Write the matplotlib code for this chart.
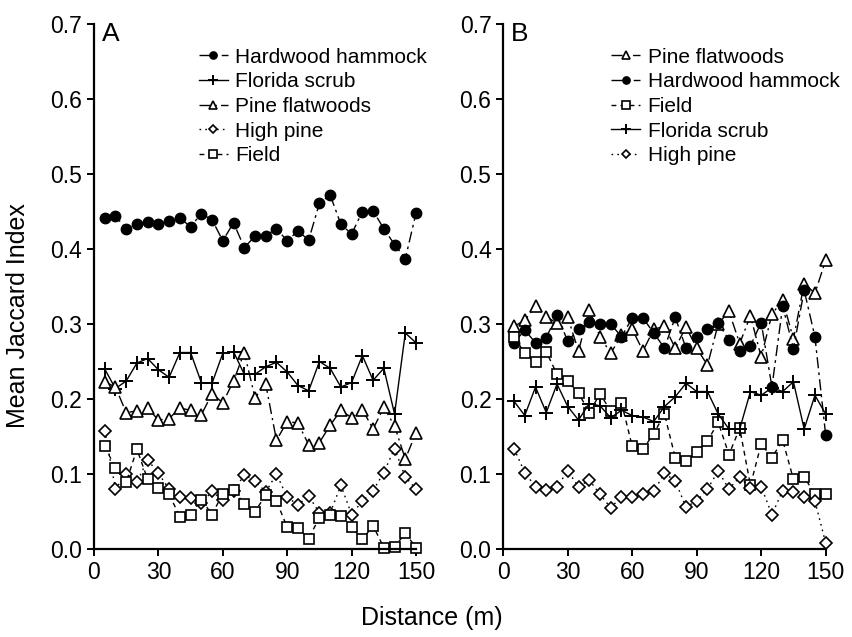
import matplotlib
matplotlib.use("Agg")
import matplotlib.pyplot as plt
from matplotlib.ticker import FormatStrFormatter

plt.rcParams['font.family'] = ['Liberation Sans', 'DejaVu Sans']

# distance along transect (m)
distance = list(range(5, 155, 5))

# Panel A
a_hardwood = [0.442, 0.444, 0.427, 0.433, 0.436, 0.433, 0.438, 0.441, 0.430, 0.447,
              0.439, 0.411, 0.435, 0.402, 0.417, 0.418, 0.427, 0.411, 0.424, 0.412,
              0.461, 0.472, 0.433, 0.420, 0.450, 0.451, 0.427, 0.406, 0.387, 0.448]
a_scrub = [0.240, 0.214, 0.224, 0.248, 0.254, 0.239, 0.229, 0.262, 0.262, 0.222,
           0.221, 0.261, 0.263, 0.233, 0.233, 0.243, 0.249, 0.236, 0.218, 0.211,
           0.250, 0.241, 0.216, 0.222, 0.258, 0.225, 0.241, 0.180, 0.288, 0.275]
a_flatwoods = [0.223, 0.216, 0.182, 0.184, 0.188, 0.172, 0.174, 0.188, 0.185, 0.179,
               0.207, 0.195, 0.224, 0.262, 0.202, 0.220, 0.145, 0.170, 0.168, 0.139,
               0.142, 0.165, 0.185, 0.175, 0.186, 0.160, 0.189, 0.164, 0.120, 0.155]
a_highpine = [0.158, 0.080, 0.100, 0.089, 0.119, 0.101, 0.080, 0.070, 0.068, 0.061,
              0.077, 0.065, 0.077, 0.099, 0.091, 0.076, 0.100, 0.069, 0.059, 0.071,
              0.048, 0.048, 0.085, 0.046, 0.064, 0.078, 0.102, 0.134, 0.096, 0.080]
a_field = [0.137, 0.108, 0.089, 0.133, 0.093, 0.081, 0.073, 0.043, 0.046, 0.066,
           0.046, 0.074, 0.079, 0.060, 0.050, 0.072, 0.064, 0.029, 0.028, 0.014,
           0.042, 0.046, 0.044, 0.029, 0.013, 0.031, 0.002, 0.003, 0.021, 0.002]

# Panel B
b_flatwoods = [0.297, 0.305, 0.324, 0.310, 0.301, 0.309, 0.264, 0.319, 0.283, 0.261,
               0.285, 0.293, 0.264, 0.293, 0.297, 0.268, 0.296, 0.268, 0.245, 0.300,
               0.317, 0.274, 0.311, 0.256, 0.313, 0.332, 0.280, 0.354, 0.341, 0.385]
b_hardwood = [0.275, 0.292, 0.275, 0.282, 0.312, 0.277, 0.293, 0.303, 0.300, 0.300,
              0.283, 0.308, 0.308, 0.288, 0.268, 0.309, 0.268, 0.283, 0.293, 0.301,
              0.279, 0.264, 0.271, 0.302, 0.216, 0.324, 0.267, 0.345, 0.283, 0.152]
b_field = [0.283, 0.261, 0.249, 0.263, 0.233, 0.224, 0.208, 0.182, 0.207, 0.184,
           0.195, 0.137, 0.133, 0.154, 0.180, 0.122, 0.118, 0.130, 0.144, 0.169,
           0.126, 0.161, 0.085, 0.140, 0.122, 0.145, 0.093, 0.096, 0.073, 0.073]
b_scrub = [0.197, 0.178, 0.216, 0.182, 0.220, 0.190, 0.172, 0.194, 0.191, 0.175,
           0.185, 0.178, 0.176, 0.170, 0.190, 0.203, 0.221, 0.210, 0.210, 0.180,
           0.160, 0.160, 0.210, 0.205, 0.215, 0.210, 0.223, 0.160, 0.205, 0.180]
b_highpine = [0.134, 0.102, 0.083, 0.079, 0.083, 0.104, 0.083, 0.092, 0.073, 0.055,
              0.070, 0.070, 0.073, 0.077, 0.101, 0.091, 0.056, 0.064, 0.080, 0.104,
              0.080, 0.096, 0.081, 0.083, 0.046, 0.078, 0.076, 0.070, 0.064, 0.008]

# line/marker style per habitat
styles = {
    'Hardwood hammock': dict(marker='o', ms=7.5, mfc='black', ls=(0, (8, 3, 2, 3))),
    'Florida scrub': dict(marker='+', ms=10, mew=1.4, ls='-'),
    'Pine flatwoods': dict(marker='^', ms=8, mfc='white', mew=1.2, ls=(0, (8, 3, 1.5, 3))),
    'High pine': dict(marker='D', ms=6, mfc='white', mew=1.2, ls=(0, (1.2, 3))),
    'Field': dict(marker='s', ms=7.5, mfc='white', mew=1.2, ls=(0, (3.5, 3))),
}


def draw_panel(ax, series, letter, legend_x):
    for name, vals in series:
        ax.plot(distance, vals, color='black', lw=1.0, mec='black',
                clip_on=False, label=name, **styles[name])
    ax.set_xlim(0, 150)
    ax.set_ylim(0, 0.7)
    ax.set_xticks(range(0, 151, 30))
    ax.set_yticks([i / 10 for i in range(8)])
    ax.yaxis.set_major_formatter(FormatStrFormatter('%.1f'))
    for side in ['top', 'right']:
        ax.spines[side].set_visible(False)
    for side in ['left', 'bottom']:
        ax.spines[side].set_linewidth(1.6)
    ax.tick_params(direction='out', length=5, width=1.4, labelsize=16.5)
    ax.text(0.025, 1.003, letter, transform=ax.transAxes, fontsize=19,
            va='top', ha='left')
    ax.legend(loc='upper left', bbox_to_anchor=(legend_x, 0.955), frameon=False,
              fontsize=15, handlelength=1.4, handletextpad=0.35,
              labelspacing=0.27, borderpad=0, borderaxespad=0, markerscale=0.7)


fig = plt.figure(figsize=(8.52, 6.37), dpi=100)
ax_a = fig.add_axes([0.1103, 0.1381, 0.3780, 0.8242])
ax_b = fig.add_axes([0.5907, 0.1381, 0.3784, 0.8242])

draw_panel(ax_a, [('Hardwood hammock', a_hardwood), ('Florida scrub', a_scrub),
                  ('Pine flatwoods', a_flatwoods), ('High pine', a_highpine),
                  ('Field', a_field)], 'A', 0.325)
draw_panel(ax_b, [('Pine flatwoods', b_flatwoods), ('Hardwood hammock', b_hardwood),
                  ('Field', b_field), ('Florida scrub', b_scrub),
                  ('High pine', b_highpine)], 'B', 0.335)

fig.text(0.021, 0.505, 'Mean Jaccard Index', fontsize=18, rotation=90,
         ha='center', va='center')
fig.text(0.507, 0.03, 'Distance (m)', fontsize=18, ha='center', va='center')

fig.savefig('out.png', dpi=100)
